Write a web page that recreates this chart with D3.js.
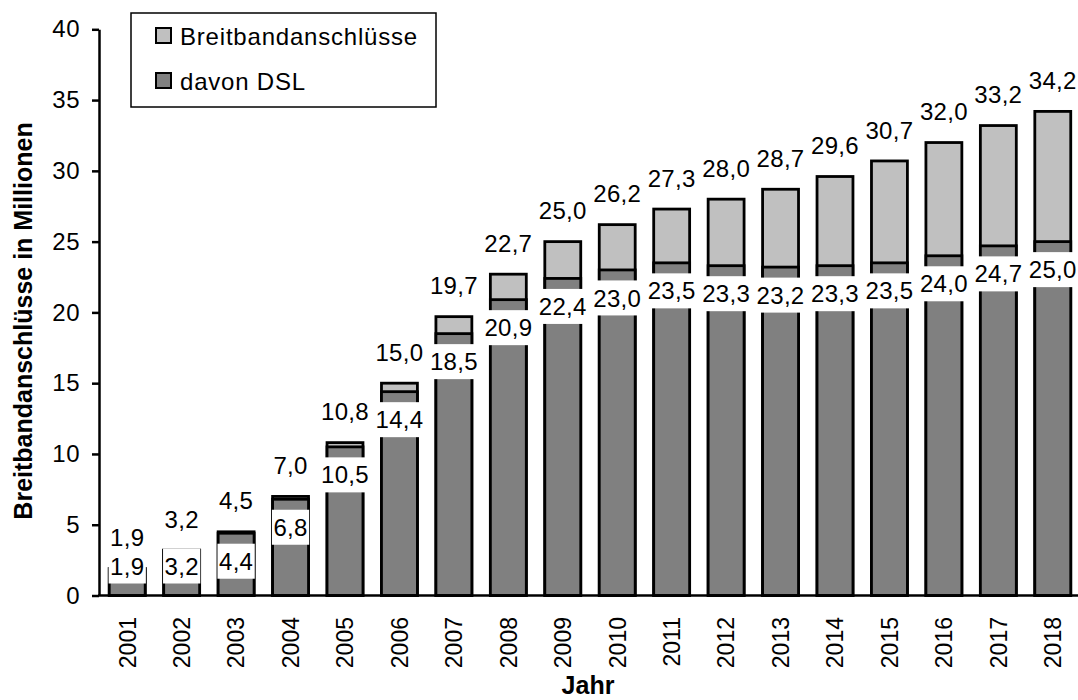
<!DOCTYPE html>
<html>
<head>
<meta charset="utf-8">
<script src="https://cdn.jsdelivr.net/npm/d3@7"></script>
<style>
  body { margin: 0; background: #fff; }
  text { font-family: "Liberation Sans", Arial, sans-serif; fill: #000; }
</style>
</head>
<body>
<svg id="chart"></svg>
<script>
let width = 1078;
let height = 700;

// data
let years = ["2001", "2002", "2003", "2004", "2005", "2006", "2007", "2008", "2009",
             "2010", "2011", "2012", "2013", "2014", "2015", "2016", "2017", "2018"];
let totalValues = [1.9, 3.2, 4.5, 7.0, 10.8, 15.0, 19.7, 22.7, 25.0,
                   26.2, 27.3, 28.0, 28.7, 29.6, 30.7, 32.0, 33.2, 34.2];
let dslValues = [1.9, 3.2, 4.4, 6.8, 10.5, 14.4, 18.5, 20.9, 22.4,
                 23.0, 23.5, 23.3, 23.2, 23.3, 23.5, 24.0, 24.7, 25.0];
let yTicks = [0, 5, 10, 15, 20, 25, 30, 35, 40];
let legendLabels = ["Breitbandanschlüsse", "davon DSL"];

let lightGrey = "#c0c0c0";
let darkGrey = "#808080";

let de = d3.formatLocale({ decimal: ",", thousands: ".", grouping: [3], currency: ["", " €"] });
let fmt = de.format(".1f");

let rows = years.map((y, i) => ({ year: y, total: totalValues[i], dsl: dslValues[i] }));

let svg = d3.select("#chart")
    .attr("width", width)
    .attr("height", height);

let x = d3.scaleBand()
    .domain(years)
    .range([100, 1080])
    .paddingInner(0.34)
    .paddingOuter(0.17);

let y = d3.scaleLinear()
    .domain([0, 40])
    .range([595.5, 29.3]);

let axisX = 99;

// y axis
let yAxis = svg.append("g")
    .attr("transform", "translate(" + axisX + ",0)")
    .call(d3.axisLeft(y).tickValues(yTicks).tickSize(7).tickSizeOuter(0).tickPadding(12));
yAxis.select(".domain").attr("stroke", "#000").attr("stroke-width", 2.5);
yAxis.selectAll(".tick line").attr("stroke", "#000").attr("stroke-width", 2.5);
yAxis.selectAll(".tick text")
    .style("font-family", "'Liberation Sans', Arial, sans-serif")
    .style("font-size", "24px")
    .style("letter-spacing", "0.5px")
    .attr("fill", "#000");

// bars: total (light) behind, DSL (dark) in front
svg.append("g").selectAll("rect")
    .data(rows)
    .enter()
    .append("rect")
    .attr("x", d => x(d.year))
    .attr("y", d => y(d.total))
    .attr("width", x.bandwidth())
    .attr("height", d => y(0) - y(d.total))
    .attr("fill", lightGrey)
    .attr("stroke", "#000")
    .attr("stroke-width", 2.8);

svg.append("g").selectAll("rect")
    .data(rows)
    .enter()
    .append("rect")
    .attr("x", d => x(d.year))
    .attr("y", d => y(d.dsl))
    .attr("width", x.bandwidth())
    .attr("height", d => y(0) - y(d.dsl))
    .attr("fill", darkGrey)
    .attr("stroke", "#000")
    .attr("stroke-width", 2.8);

// x axis line
svg.append("line")
    .attr("x1", axisX - 1).attr("x2", width)
    .attr("y1", y(0)).attr("y2", y(0))
    .attr("stroke", "#000")
    .attr("stroke-width", 2.5);

// DSL labels in white boxes just inside the bar top
let boxH = 35;
let dslLabels = svg.append("g").selectAll("g")
    .data(rows)
    .enter()
    .append("g")
    .attr("transform", d => {
        let top = Math.min(y(d.dsl) + 10.5, y(0) - 12 - boxH);
        return "translate(" + (x(d.year) + x.bandwidth() / 2) + "," + top + ")";
    });

dslLabels.append("text")
    .attr("text-anchor", "middle")
    .attr("y", boxH / 2)
    .attr("dy", "0.36em")
    .style("font-size", "24px")
    .style("letter-spacing", "0.3px")
    .text(d => fmt(d.dsl));

dslLabels.each(function () {
    let g = d3.select(this);
    let w = g.select("text").node().getComputedTextLength() + 3;
    g.insert("rect", "text")
        .attr("x", -w / 2)
        .attr("y", 0)
        .attr("width", w)
        .attr("height", boxH)
        .attr("fill", "#fff");
});

// total labels above the bars
svg.append("g").selectAll("text")
    .data(rows)
    .enter()
    .append("text")
    .attr("text-anchor", "middle")
    .attr("x", d => x(d.year) + x.bandwidth() / 2)
    .attr("y", d => y(d.total) - 31)
    .attr("dy", "0.36em")
    .style("font-size", "24px")
    .style("letter-spacing", "0.3px")
    .text(d => fmt(d.total));

// year labels, rotated
svg.append("g").selectAll("text")
    .data(years)
    .enter()
    .append("text")
    .attr("transform", d => "translate(" + (x(d) + x.bandwidth() / 2) + ",617) rotate(-90)")
    .attr("text-anchor", "end")
    .attr("dy", "0.36em")
    .style("font-size", "23px")
    .text(d => d);

// axis titles
svg.append("text")
    .attr("x", 588)
    .attr("y", 694)
    .attr("text-anchor", "middle")
    .style("font-size", "25px")
    .style("font-weight", "bold")
    .text("Jahr");

svg.append("text")
    .attr("transform", "translate(32,321) rotate(-90)")
    .attr("text-anchor", "middle")
    .style("font-size", "25px")
    .style("font-weight", "bold")
    .text("Breitbandanschlüsse in Millionen");

// legend
let legend = svg.append("g");
legend.append("rect")
    .attr("x", 131).attr("y", 13)
    .attr("width", 305).attr("height", 94)
    .attr("fill", "#fff")
    .attr("stroke", "#000")
    .attr("stroke-width", 1.5);

let legendItems = legend.selectAll("g")
    .data(legendLabels)
    .enter()
    .append("g")
    .attr("transform", (d, i) => "translate(156," + (28 + i * 45) + ")");

legendItems.append("rect")
    .attr("width", 15).attr("height", 15)
    .attr("fill", (d, i) => i === 0 ? lightGrey : darkGrey)
    .attr("stroke", "#000")
    .attr("stroke-width", 2);

legendItems.append("text")
    .attr("x", 24)
    .attr("y", 8)
    .attr("dy", "0.36em")
    .style("font-size", "24px")
    .style("letter-spacing", "0.8px")
    .text(d => d);
</script>
</body>
</html>
